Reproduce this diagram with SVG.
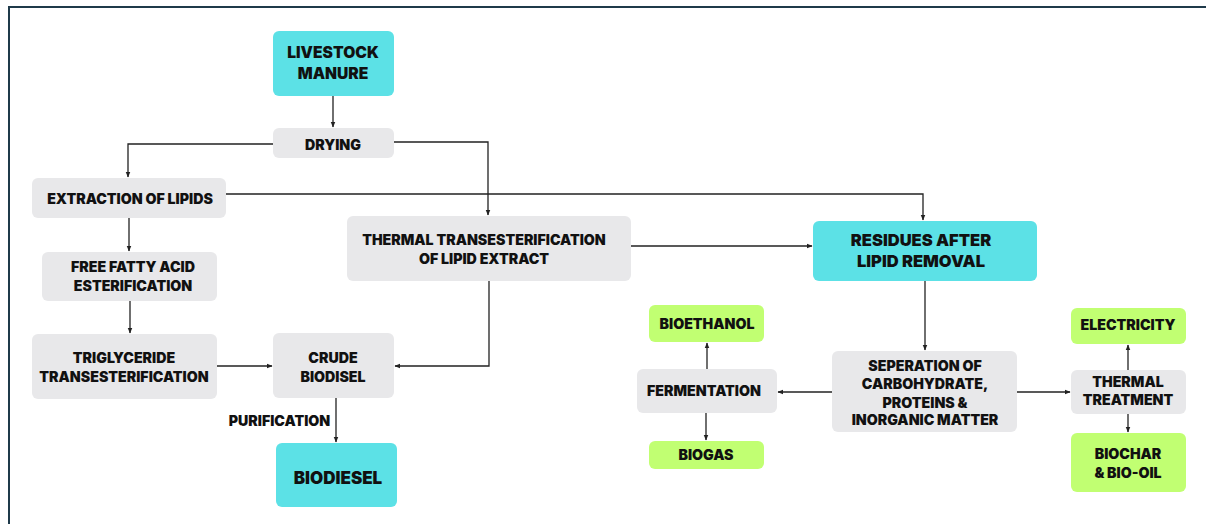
<svg xmlns="http://www.w3.org/2000/svg" width="1206" height="524" viewBox="0 0 1206 524">
<style>
.cy{fill:#5ce1e6}
.gr{fill:#e8e8ea}
.gn{fill:#c1ff72}
text{font-family:Inter,"Liberation Sans",sans-serif;font-weight:900;fill:#111;text-anchor:middle;font-size:14.2px}
.big{font-size:15.6px}
.ln{fill:none;stroke:#222;stroke-width:1.3}
</style>
<defs>
<marker id="ah" viewBox="0 0 10 10" refX="9" refY="5" markerWidth="6" markerHeight="6" markerUnits="userSpaceOnUse" orient="auto">
<path d="M0,1 L10,5 L0,9 z" fill="#222"/>
</marker>
</defs>
<rect width="1206" height="524" fill="#fff"/>
<path d="M9,524 V7 H1206" fill="none" stroke="#1f3a4a" stroke-width="2"/>

<g id="connectors">
<path class="ln" d="M333,96 V127" marker-end="url(#ah)"/>
<path class="ln" d="M273,144 H128 V177" marker-end="url(#ah)"/>
<path class="ln" d="M394,142 H488 V215" marker-end="url(#ah)"/>
<path class="ln" d="M226,194 H923 V220" marker-end="url(#ah)" stroke-width="1.8"/>
<path class="ln" d="M129,218 V251" marker-end="url(#ah)"/>
<path class="ln" d="M130,301 V333" marker-end="url(#ah)"/>
<path class="ln" d="M217,366 H272" marker-end="url(#ah)"/>
<path class="ln" d="M489,281 V366 H395" marker-end="url(#ah)"/>
<path class="ln" d="M336,398 V442" marker-end="url(#ah)"/>
<path class="ln" d="M631,246 H812" marker-end="url(#ah)"/>
<path class="ln" d="M925,281 V350" marker-end="url(#ah)"/>
<path class="ln" d="M832,392 H778" marker-end="url(#ah)"/>
<path class="ln" d="M707,369 V343" marker-end="url(#ah)"/>
<path class="ln" d="M706,413 V440" marker-end="url(#ah)"/>
<path class="ln" d="M1017,392 H1070" marker-end="url(#ah)"/>
<path class="ln" d="M1128,370 V345" marker-end="url(#ah)"/>
<path class="ln" d="M1128,414 V432" marker-end="url(#ah)"/>
</g>

<g id="livestock"><rect class="cy" x="273" y="31" width="121" height="65" rx="6"/><text class="big" x="333" y="57.8">LIVESTOCK</text><text class="big" x="333" y="78.8">MANURE</text></g>
<g id="drying"><rect class="gr" x="273" y="128" width="121" height="30" rx="6"/><text x="333" y="149.5">DRYING</text></g>
<g id="extraction"><rect class="gr" x="32" y="178" width="194" height="40" rx="6"/><text x="130" y="203.5">EXTRACTION OF LIPIDS</text></g>
<g id="ffa"><rect class="gr" x="42" y="252" width="175" height="49" rx="6"/><text x="133" y="271.5">FREE FATTY ACID</text><text x="133" y="290.5">ESTERIFICATION</text></g>
<g id="triglyceride"><rect class="gr" x="32" y="334" width="185" height="65" rx="6"/><text x="124" y="362.5">TRIGLYCERIDE</text><text x="124" y="381.5">TRANSESTERIFICATION</text></g>
<g id="crude"><rect class="gr" x="273" y="333" width="121" height="65" rx="6"/><text x="333" y="362.5">CRUDE</text><text x="333" y="381.5">BIODISEL</text></g>
<g id="purification"><text x="279.5" y="425.5">PURIFICATION</text></g>
<g id="biodiesel"><rect class="cy" x="276" y="443" width="121" height="64" rx="6"/><text x="338" y="484.3" style="font-size:17px">BIODIESEL</text></g>
<g id="thermal-trans"><rect class="gr" x="347" y="216" width="284" height="65" rx="6"/><text x="484" y="244.5">THERMAL TRANSESTERIFICATION</text><text x="484" y="263.5">OF LIPID EXTRACT</text></g>
<g id="residues"><rect class="cy" x="813" y="221" width="224" height="60" rx="6"/><text class="big" x="921" y="246.2" style="font-size:16.5px">RESIDUES AFTER</text><text class="big" x="921" y="267.2" style="font-size:16.5px">LIPID REMOVAL</text></g>
<g id="separation"><rect class="gr" x="832" y="351" width="185" height="81" rx="6"/><text x="925" y="370.5">SEPERATION OF</text><text x="925" y="388.5">CARBOHYDRATE,</text><text x="925" y="407.5">PROTEINS &amp;</text><text x="925" y="424.5">INORGANIC MATTER</text></g>
<g id="fermentation"><rect class="gr" x="637" y="369" width="140" height="44" rx="6"/><text x="704" y="395.5">FERMENTATION</text></g>
<g id="bioethanol"><rect class="gn" x="649" y="305" width="115" height="37" rx="6"/><text x="707" y="328.5">BIOETHANOL</text></g>
<g id="biogas"><rect class="gn" x="649" y="441" width="115" height="28" rx="6"/><text x="706" y="459.5">BIOGAS</text></g>
<g id="thermal-treatment"><rect class="gr" x="1071" y="370" width="115" height="44" rx="6"/><text x="1128" y="386.5">THERMAL</text><text x="1128" y="404.5">TREATMENT</text></g>
<g id="electricity"><rect class="gn" x="1071" y="308" width="115" height="36" rx="6"/><text x="1128" y="329.5">ELECTRICITY</text></g>
<g id="biochar"><rect class="gn" x="1071" y="433" width="115" height="59" rx="6"/><text x="1128" y="458.5">BIOCHAR</text><text x="1128" y="477.5">&amp; BIO-OIL</text></g>
</svg>
